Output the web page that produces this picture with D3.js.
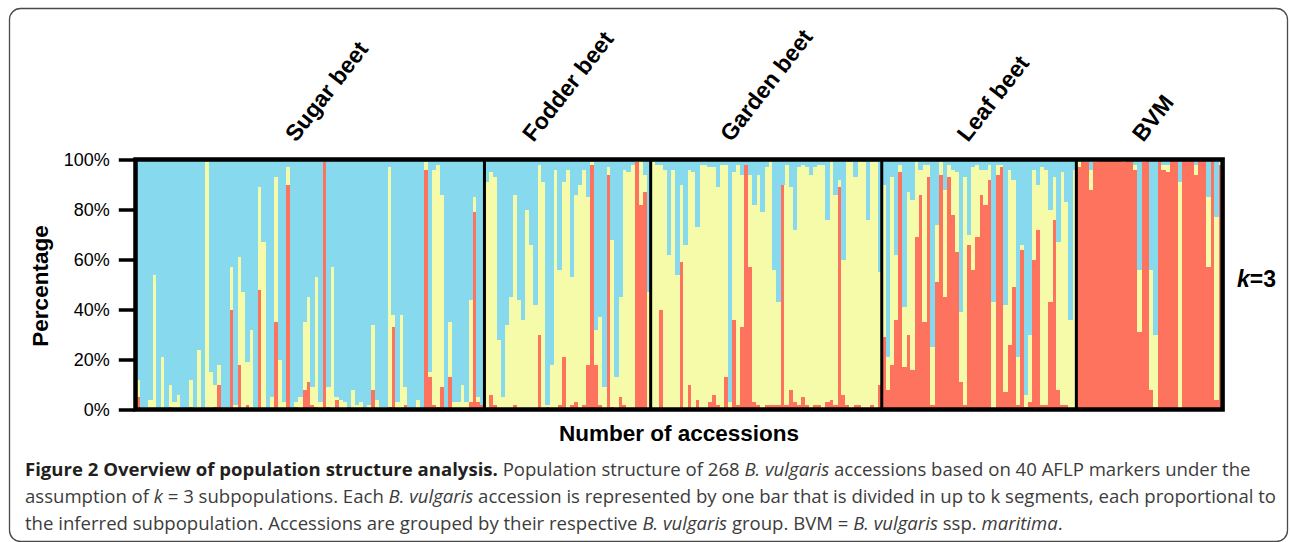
<!DOCTYPE html>
<html>
<head>
<meta charset="utf-8">
<script src="https://cdn.jsdelivr.net/npm/d3@7"></script>
<style>
  body { margin: 0; background: #fff; }
  svg { display: block; }
</style>
</head>
<body>
<script>
// Data

var groups = ["Sugar beet", "Fodder beet", "Garden beet", "Leaf beet", "BVM"];

// membership (%) per accession, red = subpopulation at the bottom, yellow = middle, blue = rest
var sugarRed = [5, 0, 0, 0, 0, 0, 0, 0, 1, 0, 0, 0, 0, 1, 0, 0, 0, 0, 0, 1,
  10, 0, 0, 40, 0, 18, 0, 2, 0, 0, 48, 0, 0, 0, 35, 0, 0, 90, 0, 1,
  0, 8, 11, 2, 1, 0, 99, 1, 0, 4, 0, 0, 1, 0, 0, 0, 0, 0, 8, 0,
  0, 0, 1, 33, 0, 0, 2, 0, 0, 0, 0, 96, 13, 2, 1, 9, 0, 13, 0, 0,
  0, 0, 3, 79, 3, 2];
var sugarYellow = [7, 1, 1, 4, 54, 0, 21, 0, 9, 3, 6, 0, 0, 11, 1, 24, 0, 99, 15, 9,
  8, 0, 0, 17, 2, 43, 47, 17, 32, 1, 41, 67, 0, 5, 58, 20, 3, 7, 0, 2,
  5, 27, 34, 7, 52, 3, 0, 8, 57, 1, 4, 3, 0, 8, 2, 3, 0, 2, 26, 4,
  1, 1, 96, 5, 3, 38, 7, 0, 0, 4, 0, 3, 2, 94, 97, 77, 0, 22, 3, 3,
  10, 3, 41, 6, 2, 0];

var fodderRed = [0, 6, 2, 0, 0, 0, 0, 2, 0, 0, 0, 0, 0, 30, 0, 1, 0, 0, 2, 21,
  0, 2, 3, 0, 2, 18, 98, 18, 2, 0, 94, 1, 0, 5, 2, 0, 0, 99, 82, 87, 0];
var fodderYellow = [91, 89, 91, 28, 5, 34, 45, 84, 44, 36, 80, 66, 42, 68, 91, 1, 18, 96, 54, 70,
  96, 51, 83, 90, 94, 67, 1, 14, 35, 9, 3, 67, 13, 40, 94, 95, 98, 1, 18, 7, 47];

var gardenRed = [0, 0, 40, 0, 0, 0, 0, 59, 0, 10, 0, 4, 0, 0, 3, 6, 2, 0, 13, 0,
  36, 2, 33, 98, 57, 3, 2, 0, 2, 2, 2, 2, 90, 2, 8, 3, 2, 5, 2, 0,
  2, 2, 0, 3, 4, 2, 89, 6, 2, 0, 2, 2, 0, 0, 2, 0, 10];
var gardenYellow = [99, 98, 58, 96, 62, 96, 54, 31, 66, 86, 95, 69, 98, 98, 94, 91, 87, 98, 85, 3,
  59, 96, 61, 0, 37, 79, 92, 79, 95, 97, 54, 41, 0, 96, 81, 69, 95, 93, 95, 94,
  95, 96, 98, 73, 95, 84, 3, 54, 97, 99, 91, 97, 99, 76, 97, 99, 45];

var leafRed = [29, 8, 18, 36, 95, 17, 30, 16, 69, 86, 35, 93, 2, 51, 94, 45, 93, 78, 63, 11,
  2, 66, 56, 69, 86, 82, 92, 0, 94, 97, 7, 26, 49, 2, 64, 1, 3, 60, 72, 2,
  2, 43, 76, 8, 2, 2, 0, 0];
var leafYellow = [61, 13, 75, 26, 3, 24, 57, 68, 30, 10, 63, 5, 23, 23, 5, 43, 5, 18, 32, 28,
  91, 4, 41, 29, 10, 14, 6, 43, 4, 1, 35, 70, 43, 19, 2, 5, 27, 36, 18, 95,
  94, 37, 17, 59, 93, 81, 36, 96];

var bvmRed = [97, 99, 99, 88, 99, 100, 100, 100, 100, 100, 100, 99, 100, 100, 96, 31, 99, 100, 8, 1,
  100, 96, 95, 100, 100, 0, 100, 100, 100, 94, 100, 100, 57, 100, 4, 98];
var bvmYellow = [2, 0, 0, 8, 1, 0, 0, 0, 0, 0, 0, 1, 0, 0, 2, 25, 1, 0, 48, 29,
  0, 2, 3, 0, 0, 91, 0, 0, 0, 4, 0, 0, 28, 0, 73, 1];

var yTicks = [0, 20, 40, 60, 80, 100];

var captionLines = [
  [["Figure 2 Overview of population structure analysis.", "b"], [" Population structure of 268 ", ""],
   ["B. vulgaris", "i"], [" accessions based on 40 AFLP markers under the", ""]],
  [["assumption of ", ""], ["k", "i"], [" = 3 subpopulations. Each ", ""], ["B. vulgaris", "i"],
   [" accession is represented by one bar that is divided in up to k segments, each proportional to", ""]],
  [["the inferred subpopulation. Accessions are grouped by their respective ", ""], ["B. vulgaris", "i"],
   [" group. BVM = ", ""], ["B. vulgaris", "i"], [" ssp. ", ""], ["maritima", "i"], [".", ""]]
];

/*
-----SVG-----
*/
var w = 1290;
var h = 542;
var svg = d3.select("body")
  .append("svg")
  .attr("width", w)
  .attr("height", h);

svg.append("rect")
  .attr("x", 9.5).attr("y", 8.5)
  .attr("width", 1278).attr("height", 533)
  .attr("rx", 11)
  .attr("fill", "none")
  .attr("stroke", "#4a4a4a")
  .attr("stroke-width", 1.3);

/*
----Bars-----
*/
var reds = [sugarRed, fodderRed, gardenRed, leafRed, bvmRed];
var yellows = [sugarYellow, fodderYellow, gardenYellow, leafYellow, bvmYellow];

var rows = [];
var groupStart = [];
groups.forEach(function(g, gi) {
  groupStart.push(rows.length);
  reds[gi].forEach(function(r, j) {
    var yv = yellows[gi][j];
    rows.push({ group: g, red: r, yellow: yv, blue: Math.max(0, 100 - r - yv) });
  });
});

var plotL = 135.8, plotR = 1222.3, plotT = 159.5, plotB = 409.5;

var x = d3.scaleBand()
  .domain(d3.range(rows.length))
  .range([plotL, plotR])
  .padding(0);

var y = d3.scaleLinear()
  .domain([0, 100])
  .range([plotB, plotT]);

var colors = { red: "#fe735d", yellow: "#f5fba9", blue: "#87d9ee" };

var series = d3.stack().keys(["red", "yellow", "blue"])(rows);

svg.append("g")
  .attr("shape-rendering", "crispEdges")
  .selectAll("g")
  .data(series)
  .enter()
  .append("g")
  .attr("fill", function(d) { return colors[d.key]; })
  .selectAll("rect")
  .data(function(d) { return d; })
  .enter()
  .append("rect")
  .attr("x", function(d, i) { return x(i); })
  .attr("width", x.bandwidth() + 0.5)
  .attr("y", function(d) { return y(d[1]); })
  .attr("height", function(d) { return Math.max(0, y(d[0]) - y(d[1])); });

// group separators
svg.append("g")
  .selectAll("line")
  .data(groupStart.slice(1))
  .enter()
  .append("line")
  .attr("x1", function(d) { return x(d); })
  .attr("x2", function(d) { return x(d); })
  .attr("y1", plotT)
  .attr("y2", plotB)
  .attr("stroke", "#000")
  .attr("stroke-width", 3);

// plot frame
svg.append("rect")
  .attr("x", plotL - 0.3).attr("y", plotT)
  .attr("width", plotR - plotL + 0.6).attr("height", plotB - plotT)
  .attr("fill", "none")
  .attr("stroke", "#000")
  .attr("stroke-width", 4.5);

/*
----Axes & labels----
*/
var yAxis = svg.append("g")
  .attr("transform", "translate(" + (plotL - 1) + ",0)")
  .call(d3.axisLeft(y).tickValues(yTicks).tickFormat(function(d) { return d + "%"; })
    .tickSize(16).tickPadding(9));
yAxis.select(".domain").remove();
yAxis.selectAll("line").attr("stroke", "#000").attr("stroke-width", 3.5);
yAxis.selectAll("text")
  .attr("font-family", "Liberation Sans, Arial, sans-serif")
  .attr("font-size", 18)
  .attr("fill", "#000");

var labelFont = "Liberation Sans, Arial, Helvetica, sans-serif";

svg.append("text")
  .attr("transform", "translate(48,286) rotate(-90)")
  .attr("text-anchor", "middle")
  .attr("font-family", labelFont)
  .attr("font-weight", "bold")
  .attr("font-size", 22.5)
  .text("Percentage");

svg.append("text")
  .attr("x", 679).attr("y", 441)
  .attr("text-anchor", "middle")
  .attr("font-family", labelFont)
  .attr("font-weight", "bold")
  .attr("font-size", 22.5)
  .text("Number of accessions");

// rotated group names
var labelDx = [-14, -34, -35, -11, -6];
svg.append("g")
  .selectAll("text")
  .data(groups)
  .enter()
  .append("text")
  .attr("transform", function(d, i) {
    var n = reds[i].length;
    var cx = x(groupStart[i]) + n * x.bandwidth() / 2 + labelDx[i];
    return "translate(" + cx + ",143) rotate(-52)";
  })
  .attr("font-family", labelFont)
  .attr("font-weight", "bold")
  .attr("font-size", 23)
  .text(function(d) { return d; });

var kLabel = svg.append("text")
  .attr("x", 1237).attr("y", 287)
  .attr("font-family", labelFont)
  .attr("font-weight", "bold")
  .attr("font-size", 23);
kLabel.append("tspan").attr("font-style", "italic").text("k");
kLabel.append("tspan").text("=3");

/*
----Caption----
*/
var capFont = "Open Sans, Noto Sans, sans-serif";
var capY = [476, 503, 530];
var capTexts = captionLines.map(function(line, li) {
  var t = svg.append("text")
    .attr("x", 25).attr("y", capY[li])
    .attr("font-family", capFont)
    .attr("font-size", 16)
    .attr("fill", "#3c3c3c");
  line.forEach(function(seg) {
    var s = t.append("tspan").text(seg[0]);
    if (seg[1] === "b") s.attr("font-weight", "bold").attr("fill", "#231f20");
    if (seg[1] === "i") s.attr("font-style", "italic");
  });
  return t;
});

// fit the caption size to the width of the second line
var measured = capTexts[1].node().getComputedTextLength();
var capSize = 16 * 1252 / measured;
capTexts.forEach(function(t) { t.attr("font-size", capSize); });
</script>
</body>
</html>
